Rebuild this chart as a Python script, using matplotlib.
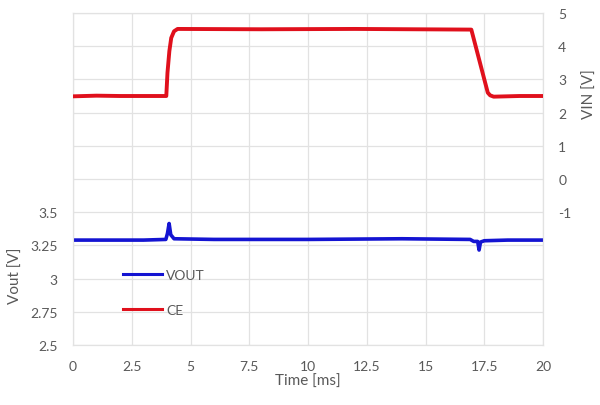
import numpy as np
import matplotlib
matplotlib.use("Agg")
import matplotlib.pyplot as plt

# CE (VIN) trace [ms], [V]
ce_t = [0, 1.0, 2.0, 3.0, 3.97, 4.02, 4.10, 4.18, 4.30, 4.45, 8.0, 12.0, 16.95,
        17.65, 17.75, 17.90, 19.0, 20]
ce_v = [2.49, 2.51, 2.50, 2.50, 2.50, 3.20, 3.85, 4.25, 4.45, 4.52, 4.51, 4.52, 4.50,
        2.60, 2.52, 2.48, 2.50, 2.50]

# VOUT trace
vout_t = [0, 1.0, 2.0, 3.0, 3.95, 4.02, 4.09, 4.16, 4.30, 6.0, 10.0, 14.0, 16.9,
          17.05, 17.22, 17.28, 17.34, 17.5, 18.5, 20]
vout_v = [3.29, 3.29, 3.29, 3.29, 3.295, 3.34, 3.415, 3.33, 3.30, 3.295, 3.295, 3.30, 3.295,
          3.28, 3.28, 3.215, 3.275, 3.285, 3.29, 3.29]

x_ticks = [0, 2.5, 5, 7.5, 10, 12.5, 15, 17.5, 20]
left_ticks = [2.5, 2.75, 3, 3.25, 3.5]
right_ticks = [-1, 0, 1, 2, 3, 4, 5]

plt.rcParams['font.family'] = ['Lato', 'DejaVu Sans']
grey = '#595959'
gridc = '#e2e2e2'

fig = plt.figure(figsize=(6.0, 4.06), dpi=100)
ax = fig.add_axes([73/600, 1 - 346/406, 470/600, 332/406])
ax2 = ax.twinx()

# left axis: Vout, 2.5..5 with grid every 0.25, labels only on lower part
ax.set_xlim(0, 20)
ax.set_ylim(2.5, 5.0)
ax.set_xticks(x_ticks)
ax.set_xticklabels(['0', '2.5', '5', '7.5', '10', '12.5', '15', '17.5', '20'])
ax.set_yticks(np.arange(2.5, 5.01, 0.25))
ax.set_yticklabels([str(v) for v in left_ticks] + [''] * 6)
ax.grid(True, color=gridc, linewidth=0.9)
ax.set_axisbelow(True)

ax2.set_ylim(-5, 5)
ax2.set_yticks(right_ticks)
ax2.set_yticklabels([str(v) for v in right_ticks])

for a in (ax, ax2):
    a.tick_params(length=0, labelsize=10, colors=grey, pad=11)
    for s in a.spines.values():
        s.set_color(gridc)

ax.set_xlabel('Time [ms]', fontsize=11, color=grey, labelpad=1)
fig.text(16/600, 1 - 276/406, 'Vout [V]', rotation=90, ha='center', va='center',
         fontsize=11, color=grey)
fig.text(590/600, 1 - 94/406, 'VIN [V]', rotation=90, ha='center', va='center',
         fontsize=11, color=grey)

l1, = ax.plot(vout_t, vout_v, color='#1414d2', linewidth=2.6, label='VOUT', zorder=3)
l2, = ax2.plot(ce_t, ce_v, color='#e0101c', linewidth=2.8, label='CE', zorder=3)

leg = ax.legend(handles=[l1, l2], loc='upper left', bbox_to_anchor=(0.095, 0.245),
                frameon=False, fontsize=10, handlelength=2.8, handletextpad=0.3,
                labelspacing=1.65, borderaxespad=0)
for txt in leg.get_texts():
    txt.set_color(grey)
for h in leg.get_lines():
    h.set_linewidth(2.2)

fig.savefig('out.png', dpi=100)
